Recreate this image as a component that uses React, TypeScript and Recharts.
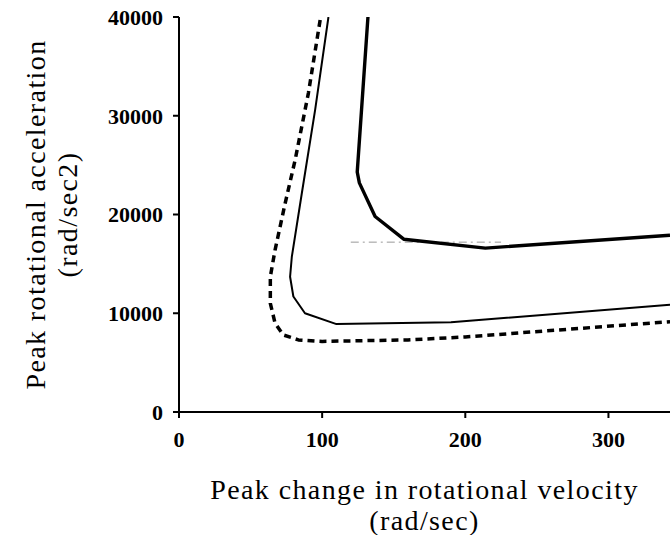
import React from "react";
import { LineChart, Line, XAxis, YAxis, Label } from "recharts";

// Peak change in rotational velocity (rad/sec) vs peak rotational acceleration (rad/sec2)
const thickCurve = [
  { v: 132, a: 40000 },
  { v: 124.5, a: 24300 },
  { v: 126, a: 23200 },
  { v: 137, a: 19800 },
  { v: 157, a: 17500 },
  { v: 214, a: 16600 },
  { v: 343, a: 17900 },
];

const thinCurve = [
  { v: 104.4, a: 40000 },
  { v: 95.1, a: 30600 },
  { v: 85.8, a: 22150 },
  { v: 78.8, a: 15700 },
  { v: 77.6, a: 13700 },
  { v: 79.9, a: 11700 },
  { v: 88, a: 10000 },
  { v: 110, a: 8900 },
  { v: 190, a: 9100 },
  { v: 343, a: 10850 },
];

const dashedCurve = [
  { v: 98.6, a: 39700 },
  { v: 90.4, a: 32300 },
  { v: 81.1, a: 25500 },
  { v: 74.1, a: 21100 },
  { v: 67.1, a: 16400 },
  { v: 63.8, a: 13700 },
  { v: 63.8, a: 11000 },
  { v: 67.1, a: 9000 },
  { v: 72.9, a: 7800 },
  { v: 83.4, a: 7300 },
  { v: 100, a: 7150 },
  { v: 160, a: 7300 },
  { v: 200, a: 7600 },
  { v: 343, a: 9150 },
];

const guideLine = [
  { v: 120, a: 17200 },
  { v: 225, a: 17200 },
];

const xTicks = [0, 100, 200, 300];
const yTicks = [0, 10000, 20000, 30000, 40000];

const xTitle = ["Peak change in rotational velocity", "(rad/sec)"];
const yTitle = ["Peak rotational acceleration", "(rad/sec2)"];

const FONT = '"Liberation Serif", "DejaVu Serif", serif';
const TITLE_SIZE = 28;
const TITLE_SPACING = 1.4;

const XTitle = (props: any) => {
  const vb = props.viewBox || {};
  const cx = vb.x + vb.width / 2;
  return (
    <g>
      <text x={cx} y={vb.y + 77} textAnchor="middle" dominantBaseline="central" fontFamily={FONT} fontSize={TITLE_SIZE} letterSpacing={TITLE_SPACING} fill="#000">
        {xTitle[0]}
      </text>
      <text x={cx} y={vb.y + 108} textAnchor="middle" dominantBaseline="central" fontFamily={FONT} fontSize={TITLE_SIZE} letterSpacing={TITLE_SPACING} fill="#000">
        {xTitle[1]}
      </text>
    </g>
  );
};

const YTitle = (props: any) => {
  const vb = props.viewBox || {};
  const cy = vb.y + vb.height / 2;
  return (
    <g>
      <text x={35} y={cy} transform={`rotate(-90 35 ${cy})`} textAnchor="middle" dominantBaseline="central" fontFamily={FONT} fontSize={TITLE_SIZE} letterSpacing={TITLE_SPACING} fill="#000">
        {yTitle[0]}
      </text>
      <text x={67} y={cy} transform={`rotate(-90 67 ${cy})`} textAnchor="middle" dominantBaseline="central" fontFamily={FONT} fontSize={TITLE_SIZE} letterSpacing={TITLE_SPACING} fill="#000">
        {yTitle[1]}
      </text>
    </g>
  );
};

export default function App() {
  return (
    <div style={{ position: "absolute", left: 0, top: 0, width: 670, height: 535, background: "#fff" }}>
      <LineChart width={670} height={535} margin={{ top: 17, right: 0, bottom: 0, left: 0 }}>
        <XAxis
          dataKey="v"
          type="number"
          domain={[0, 343]}
          ticks={xTicks}
          allowDataOverflow
          height={123}
          axisLine={{ stroke: "#000", strokeWidth: 2 }}
          tickLine={{ stroke: "#000", strokeWidth: 2 }}
          tickSize={6}
          tickMargin={13}
          tick={{ fill: "#000", fontFamily: FONT, fontSize: 22, fontWeight: "bold" }}
        >
          <Label content={<XTitle />} />
        </XAxis>
        <YAxis
          dataKey="a"
          type="number"
          domain={[0, 40000]}
          ticks={yTicks}
          allowDataOverflow
          width={179}
          axisLine={{ stroke: "#000", strokeWidth: 2 }}
          tickLine={{ stroke: "#000", strokeWidth: 2 }}
          tickSize={6}
          tickMargin={10}
          tick={{ fill: "#000", fontFamily: FONT, fontSize: 22, fontWeight: "bold" }}
        >
          <Label content={<YTitle />} />
        </YAxis>
        <Line data={guideLine} dataKey="a" type="linear" stroke="#999" strokeWidth={1} strokeDasharray="8 4 2 4" dot={false} isAnimationActive={false} />
        <Line data={dashedCurve} dataKey="a" type="linear" stroke="#000" strokeWidth={3.5} strokeDasharray="7 5" dot={false} isAnimationActive={false} strokeLinejoin="round" />
        <Line data={thinCurve} dataKey="a" type="linear" stroke="#000" strokeWidth={2} dot={false} isAnimationActive={false} strokeLinejoin="round" />
        <Line data={thickCurve} dataKey="a" type="linear" stroke="#000" strokeWidth={3.4} dot={false} isAnimationActive={false} strokeLinejoin="round" />
      </LineChart>
    </div>
  );
}
